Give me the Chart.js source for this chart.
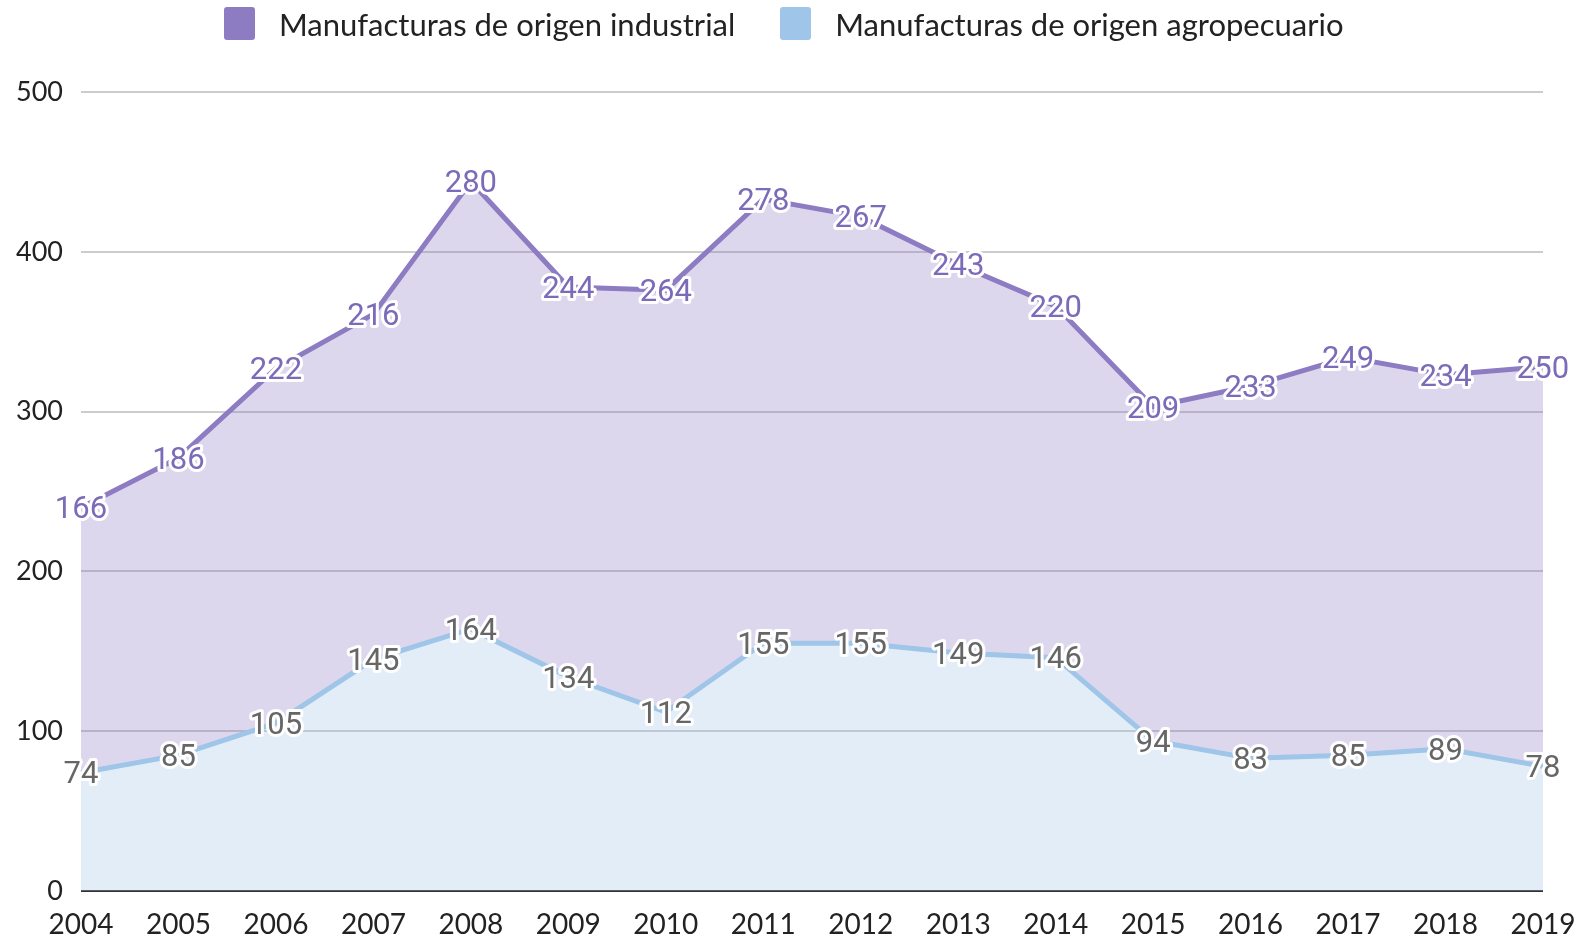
<!DOCTYPE html>
<html>
<head>
<meta charset="utf-8">
<script src="https://cdn.jsdelivr.net/npm/chart.js@4.4.0/dist/chart.umd.min.js"></script>
<style>
  html, body { margin: 0; padding: 0; background: #fff; }
  #wrap { position: relative; width: 1581px; height: 937px; }
  #legend { position: absolute; left: 224px; top: 7px; display: flex; align-items: center;
    font-family: Lato, sans-serif; font-size: 31px; color: #222; height: 33px; }
  .item { display: flex; align-items: center; margin-right: 45px; }
  .box { width: 31px; height: 33px; border-radius: 3px; margin-right: 24px; }
</style>
</head>
<body>
<div id="wrap">
  <div id="legend"></div>
  <canvas id="chart"></canvas>
</div>
<script>
// ================================
//            DATA
// ================================
const years = ["2004", "2005", "2006", "2007", "2008", "2009", "2010", "2011",
  "2012", "2013", "2014", "2015", "2016", "2017", "2018", "2019"];
const industrial = [166, 186, 222, 216, 280, 244, 264, 278, 267, 243, 220, 209, 233, 249, 234, 250];
const agro = [74, 85, 105, 145, 164, 134, 112, 155, 155, 149, 146, 94, 83, 85, 89, 78];
const yTicks = [0, 100, 200, 300, 400, 500];

const purple = "#8E7CC3";
const blue = "#9FC5E8";

// ================================
//    LABELS WITH WHITE OUTLINE
// ================================
const pointLabels = {
  id: "pointLabels",
  afterDatasetsDraw(chart) {
    const ctx = chart.ctx;
    ctx.save();
    ctx.font = "31px Roboto";
    ctx.textAlign = "center";
    ctx.textBaseline = "middle";
    ctx.lineJoin = "round";
    chart.data.datasets.forEach((ds, i) => {
      const meta = chart.getDatasetMeta(i);
      meta.data.forEach((pt, j) => {
        const txt = String(ds.data[j]);
        ctx.strokeStyle = "#fff";
        ctx.lineWidth = 6;
        ctx.strokeText(txt, pt.x, pt.y + 3);
        ctx.fillStyle = ds.labelColor;
        ctx.fillText(txt, pt.x, pt.y + 3);
      });
    });
    ctx.restore();
  },
};

const chart = new Chart(document.getElementById("chart"), {
  type: "line",
  data: {
    labels: years,
    datasets: [
      {
        label: "Manufacturas de origen agropecuario",
        data: agro,
        borderColor: blue,
        backgroundColor: "rgba(159,197,232,0.3)",
        labelColor: "#666666",
        fill: "origin",
        borderWidth: 5,
        pointRadius: 0,
        tension: 0,
      },
      {
        label: "Manufacturas de origen industrial",
        data: industrial,
        borderColor: purple,
        backgroundColor: "rgba(142,124,195,0.3)",
        labelColor: "#7B6BB8",
        fill: "-1",
        borderWidth: 5,
        pointRadius: 0,
        tension: 0,
      },
    ],
  },
  plugins: [pointLabels],
  options: {
    responsive: true,
    maintainAspectRatio: false,
    animation: false,
    layout: { padding: { left: 0, right: 38, top: 92, bottom: 0 } },
    plugins: {
      tooltip: { enabled: false },
      legend: { display: false },
    },
    scales: {
      x: {
        grid: { display: false },
        border: { display: false },
        afterFit(axis) {
          axis.height = 46;
          axis.paddingLeft = 0;
          axis.paddingRight = 0;
        },
        ticks: {
          color: "#222",
          font: { family: "Lato", size: 28 },
          padding: 9,
          maxRotation: 0,
          autoSkip: false,
        },
      },
      y: {
        stacked: true,
        min: 0,
        max: 500,
        afterBuildTicks(axis) {
          axis.ticks = yTicks.map((v) => ({ value: v }));
        },
        afterFit(axis) {
          axis.width = 81;
        },
        border: { display: false },
        grid: {
          drawTicks: false,
          lineWidth: 2,
          color: (c) => (c.tick && c.tick.value === 0 ? "#333" : "#cccccc"),
        },
        ticks: {
          color: "#222",
          font: { family: "Lato", size: 27 },
          padding: 18,
        },
      },
    },
  },
});

// ================================
//           LEGEND
// ================================
const legend = document.getElementById("legend");
[1, 0].forEach((i) => {
  const ds = chart.data.datasets[i];
  const item = document.createElement("div");
  item.className = "item";
  const box = document.createElement("span");
  box.className = "box";
  box.style.background = ds.borderColor;
  const txt = document.createElement("span");
  txt.textContent = ds.label;
  item.appendChild(box);
  item.appendChild(txt);
  legend.appendChild(item);
});
</script>
</body>
</html>
